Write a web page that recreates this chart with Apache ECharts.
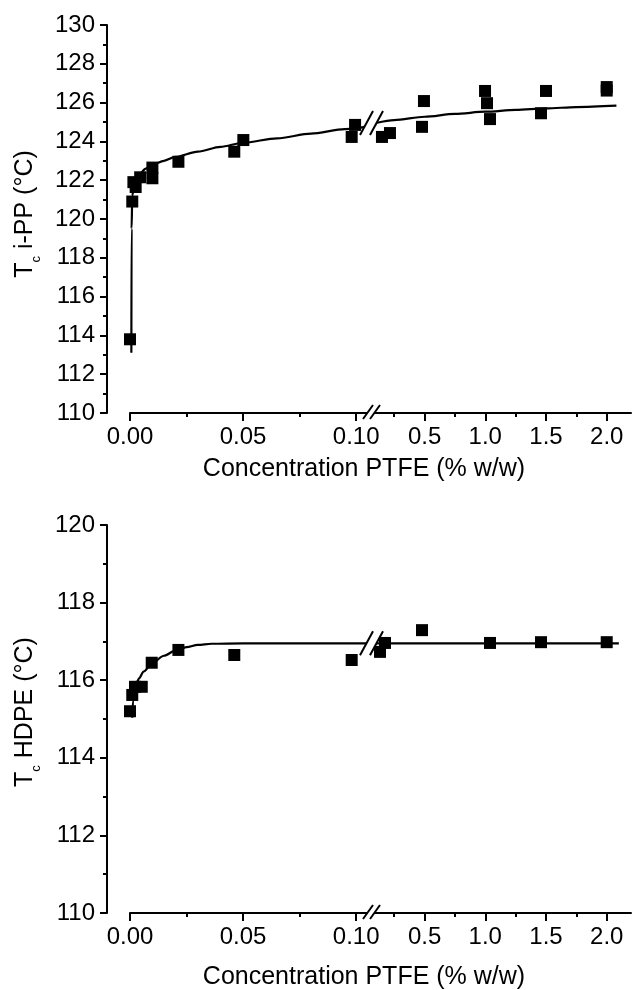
<!DOCTYPE html>
<html><head><meta charset="utf-8">
<script src="https://cdn.jsdelivr.net/npm/echarts@6/dist/echarts.min.js"></script>
<style>html,body{margin:0;padding:0;background:#fff}#c{width:635px;height:990px}</style>
</head><body><div id="c"></div>
<script>
// ---------- data ----------
const xTicksLeft = [0, 0.05, 0.10];
const xMinorLeft = [0.025, 0.075];
const xTicksRight = [0.5, 1.0, 1.5, 2.0];
const xMinorRight = [0.25, 0.75, 1.25, 1.75];
const yTitleTop = 'i-PP (°C)';
const yTitleBottom = 'HDPE (°C)';
const xTitle = 'Concentration PTFE (% w/w)';

// i-PP, low concentration segment
const ppLeftX = [0, 0.001, 0.0015, 0.0025, 0.0045, 0.0099, 0.0099, 0.0214, 0.0461, 0.0501, 0.098, 0.0995];
const ppLeftY = [113.8, 120.9, 121.9, 121.65, 122.15, 122.65, 122.1, 122.95, 123.47, 124.07, 124.23, 124.85];
// i-PP, high concentration segment
const ppRightX = [0.149, 0.215, 0.479, 0.495, 0.998, 1.014, 1.039, 1.459, 1.50, 2.0, 2.0];
const ppRightY = [124.23, 124.43, 124.75, 126.08, 126.6, 125.97, 125.15, 125.45, 126.6, 126.8, 126.62];
// i-PP fitted curve
const ppFitLeftX = [0.0006, 0.0007, 0.001, 0.002, 0.004, 0.007, 0.01, 0.015, 0.02, 0.03, 0.04, 0.05, 0.065, 0.08, 0.095, 0.1088];
const ppFitLeftY = [113.1, 119.5, 121.2, 121.85, 122.3, 122.6, 122.8, 123.0, 123.2, 123.47, 123.72, 123.93, 124.16, 124.4, 124.63, 124.85];
const ppFitRightX = [0.1, 0.25, 0.5, 0.75, 1.0, 1.25, 1.5, 1.75, 2.08];
const ppFitRightY = [124.95, 125.1, 125.27, 125.42, 125.53, 125.62, 125.7, 125.77, 125.84];

// HDPE, low concentration segment
const peLeftX = [0, 0.001, 0.0022, 0.0052, 0.0096, 0.0214, 0.0461, 0.098];
const peLeftY = [115.2, 115.62, 115.83, 115.83, 116.45, 116.78, 116.65, 116.52];
// HDPE, high concentration segment
const peRightX = [0.133, 0.174, 0.479, 1.039, 1.459, 2.0];
const peRightY = [116.73, 116.96, 117.29, 116.96, 116.98, 116.98];
// HDPE fitted curve
const peFitLeftX = [0.001, 0.0013, 0.0025, 0.004, 0.006, 0.01, 0.015, 0.02, 0.025, 0.03, 0.036, 0.05, 0.1088];
const peFitLeftY = [115.03, 115.45, 115.85, 116.05, 116.22, 116.45, 116.63, 116.76, 116.85, 116.91, 116.94, 116.95, 116.95];
const peFitRightX = [0.1, 2.1];
const peFitRightY = [116.95, 116.95];

// ---------- helpers ----------
const FONT = '"Liberation Sans", Arial, sans-serif';
const zip = (xs, ys) => xs.map((x, i) => [x, ys[i]]);
const AX = {color: '#000', width: 2};

function xMajor(grid, min, max, ticks, digits) {
  return {type: 'value', gridIndex: grid, min: min, max: max, position: 'bottom',
    axisLine: {show: true, onZero: false, lineStyle: AX},
    axisTick: {show: true, inside: false, length: 8, customValues: ticks, lineStyle: AX},
    axisLabel: {show: true, customValues: ticks, formatter: v => Number(v).toFixed(digits),
      margin: 12, color: '#000', fontSize: 24, fontFamily: FONT},
    splitLine: {show: false}};
}
function xMinor(grid, min, max, ticks) {
  return {type: 'value', gridIndex: grid, min: min, max: max, position: 'bottom',
    axisLine: {show: false, onZero: false},
    axisTick: {show: true, inside: false, length: 4, customValues: ticks, lineStyle: AX},
    axisLabel: {show: false}, splitLine: {show: false}};
}
function yLeft(grid, min, max) {
  return {type: 'value', gridIndex: grid, min: min, max: max, interval: 2, offset: 23,
    axisLine: {show: true, onZero: false, lineStyle: AX},
    axisTick: {show: true, inside: false, length: 7, lineStyle: AX},
    minorTick: {show: true, splitNumber: 2, length: 4, lineStyle: AX},
    axisLabel: {margin: 12, color: '#000', fontSize: 24, fontFamily: FONT},
    splitLine: {show: false}, minorSplitLine: {show: false}};
}
function yHidden(grid, min, max) {
  return {type: 'value', gridIndex: grid, min: min, max: max, show: false, splitLine: {show: false}};
}
function scatter(xi, yi, xs, ys) {
  return {type: 'scatter', xAxisIndex: xi, yAxisIndex: yi, data: zip(xs, ys), symbol: 'rect',
    symbolSize: 12, itemStyle: {color: '#000', opacity: 1}, z: 4, silent: true};
}
function fit(xi, yi, xs, ys) {
  return {type: 'line', xAxisIndex: xi, yAxisIndex: yi, data: zip(xs, ys), symbol: 'none',
    smooth: 0.3, smoothMonotone: 'x', clip: false, lineStyle: {color: '#000', width: 2.2}, z: 3, silent: true};
}

const LMAX = 0.10875, RMIN = 0.1, RMAX = 2.2;
const chart = echarts.init(document.getElementById('c'));
chart.setOption({
  animation: false,
  backgroundColor: '#fff',
  grid: [
    {left: 130, top: 25, width: 246, height: 388},
    {left: 376, top: 25, width: 255, height: 388},
    {left: 130, top: 525, width: 246, height: 388},
    {left: 376, top: 525, width: 255, height: 388}
  ],
  xAxis: [
    xMajor(0, 0, LMAX, xTicksLeft, 2), xMinor(0, 0, LMAX, xMinorLeft),
    xMajor(1, RMIN, RMAX, xTicksRight, 1), xMinor(1, RMIN, RMAX, xMinorRight),
    xMajor(2, 0, LMAX, xTicksLeft, 2), xMinor(2, 0, LMAX, xMinorLeft),
    xMajor(3, RMIN, RMAX, xTicksRight, 1), xMinor(3, RMIN, RMAX, xMinorRight)
  ],
  yAxis: [yLeft(0, 110, 130), yHidden(1, 110, 130), yLeft(2, 110, 120), yHidden(3, 110, 120)],
  series: [
    fit(0, 0, ppFitLeftX, ppFitLeftY),      // 0
    fit(2, 1, ppFitRightX, ppFitRightY),    // 1
    scatter(0, 0, ppLeftX, ppLeftY),
    scatter(2, 1, ppRightX, ppRightY),
    fit(4, 2, peFitLeftX, peFitLeftY),      // 4
    fit(6, 3, peFitRightX, peFitRightY),    // 5
    scatter(4, 2, peLeftX, peLeftY),
    scatter(6, 3, peRightX, peRightY)
  ]
});

// ---------- break marks & titles ----------
function breakMark(cx, cy, w, h, sep) {
  const a1 = [cx - sep / 2 - w / 2, cy + h / 2], b1 = [cx - sep / 2 + w / 2, cy - h / 2];
  const a2 = [cx + sep / 2 - w / 2, cy + h / 2], b2 = [cx + sep / 2 + w / 2, cy - h / 2];
  return [
    {type: 'polygon', z: 100, shape: {points: [a1, b1, b2, a2]}, style: {fill: '#fff'}},
    {type: 'line', z: 101, shape: {x1: a1[0], y1: a1[1], x2: b1[0], y2: b1[1]}, style: {stroke: '#000', lineWidth: 2}},
    {type: 'line', z: 101, shape: {x1: a2[0], y1: a2[1], x2: b2[0], y2: b2[1]}, style: {stroke: '#000', lineWidth: 2}}
  ];
}
const bx = 371.5;
const pTop = chart.convertToPixel({seriesIndex: 1}, [ppFitRightX[0], ppFitRightY[0]]);
const pBot = chart.convertToPixel({seriesIndex: 5}, [peFitRightX[0], peFitRightY[0]]);
const axTop = chart.convertToPixel({seriesIndex: 1}, [RMIN, 110])[1];
const axBot = chart.convertToPixel({seriesIndex: 5}, [RMIN, 110])[1];

function yTitle(x, y, rest) {
  return {type: 'text', z: 50, x: x, y: y, rotation: Math.PI / 2,
    style: {text: '{t|T}{s|c}{t| ' + rest + '}', align: 'center', verticalAlign: 'middle',
      rich: {
        t: {fontSize: 25, fontFamily: FONT, fill: '#000', verticalAlign: 'top', lineHeight: 25},
        s: {fontSize: 13, fontFamily: FONT, fill: '#000', verticalAlign: 'top', lineHeight: 13, padding: [17, 0, 0, 0]}
      }}};
}
function xTitleEl(y) {
  return {type: 'text', z: 50, x: 364, y: y,
    style: {text: xTitle, fontSize: 25, fontFamily: FONT, fill: '#000', align: 'center', verticalAlign: 'middle'}};
}

chart.setOption({
  graphic: [].concat(
    breakMark(bx, axTop - 1, 10, 14, 7),
    breakMark(bx, axBot - 1, 10, 14, 7),
    breakMark(bx, pTop[1], 13, 24, 10),
    breakMark(bx, pBot[1], 13, 24, 10),
    [yTitle(25, 214, yTitleTop), yTitle(25, 712, yTitleBottom), xTitleEl(469), xTitleEl(977)]
  )
});
</script>
</body></html>
